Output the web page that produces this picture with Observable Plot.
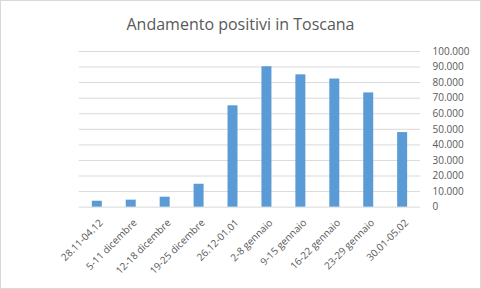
<!DOCTYPE html>
<html><head><meta charset="utf-8">
<script src="https://cdn.jsdelivr.net/npm/d3@7"></script>
<script src="https://cdn.jsdelivr.net/npm/@observablehq/plot@0.6"></script>
<style>
body{margin:0;background:#fff;}
#wrap{position:relative;width:479px;height:287px;border:1px solid #d9d9d9;background:#fff;overflow:hidden;font-family:"Open Sans",sans-serif;}
#title{position:absolute;left:0;top:0;width:479px;height:39px;text-align:center;line-height:46px;font-size:16px;color:#595959;}
#chart{position:absolute;left:-1px;top:39px;}
</style></head><body>
<div id="wrap"><div id="title">Andamento positivi in Toscana</div><div id="chart"></div></div>
<script>
const weeks = ["28.11-04.12","5-11 dicembre","12-18 dicembre","19-25 dicembre","26.12-01.01","2-8 gennaio","9-15 gennaio","16-22 gennaio","23-29 gennaio","30.01-05.02"];
const positivi = [3800, 4500, 6400, 14700, 65100, 90200, 85000, 82300, 73400, 47900];
const yTicks = [0,10000,20000,30000,40000,50000,60000,70000,80000,90000,100000];
const data = weeks.map((w,i)=>({week:w, value:positivi[i]}));
const fmt = d => d === 0 ? "0" : d3.format(",")(d).replace(/,/g, ".");
const chart = Plot.plot({
  width: 481, height: 249,
  marginTop: 11, marginBottom: 82, marginLeft: 79, marginRight: 60,
  style: {fontFamily: "Open Sans, sans-serif", color: "#595959", background: "transparent"},
  x: {domain: weeks, paddingInner: 0.7, paddingOuter: 0.35, label: null},
  y: {domain: [0,100000], label: null},
  marks: [
    Plot.ruleY(yTicks, {stroke: "#d9d9d9", strokeWidth: 1}),
    Plot.barY(data, {x: "week", y: "value", fill: "#5b9bd5"}),
    Plot.axisY({anchor: "right", ticks: yTicks, tickFormat: fmt, tickSize: 0, tickPadding: 12, fontSize: 10, label: null, textAnchor: "start"}),
    Plot.axisX({tickSize: 0, tickRotate: -45, tickPadding: 14, dx: 4, fontSize: 10, fill: "#595959", label: null})
  ]
});
document.getElementById("chart").appendChild(chart);
</script>
</body></html>
